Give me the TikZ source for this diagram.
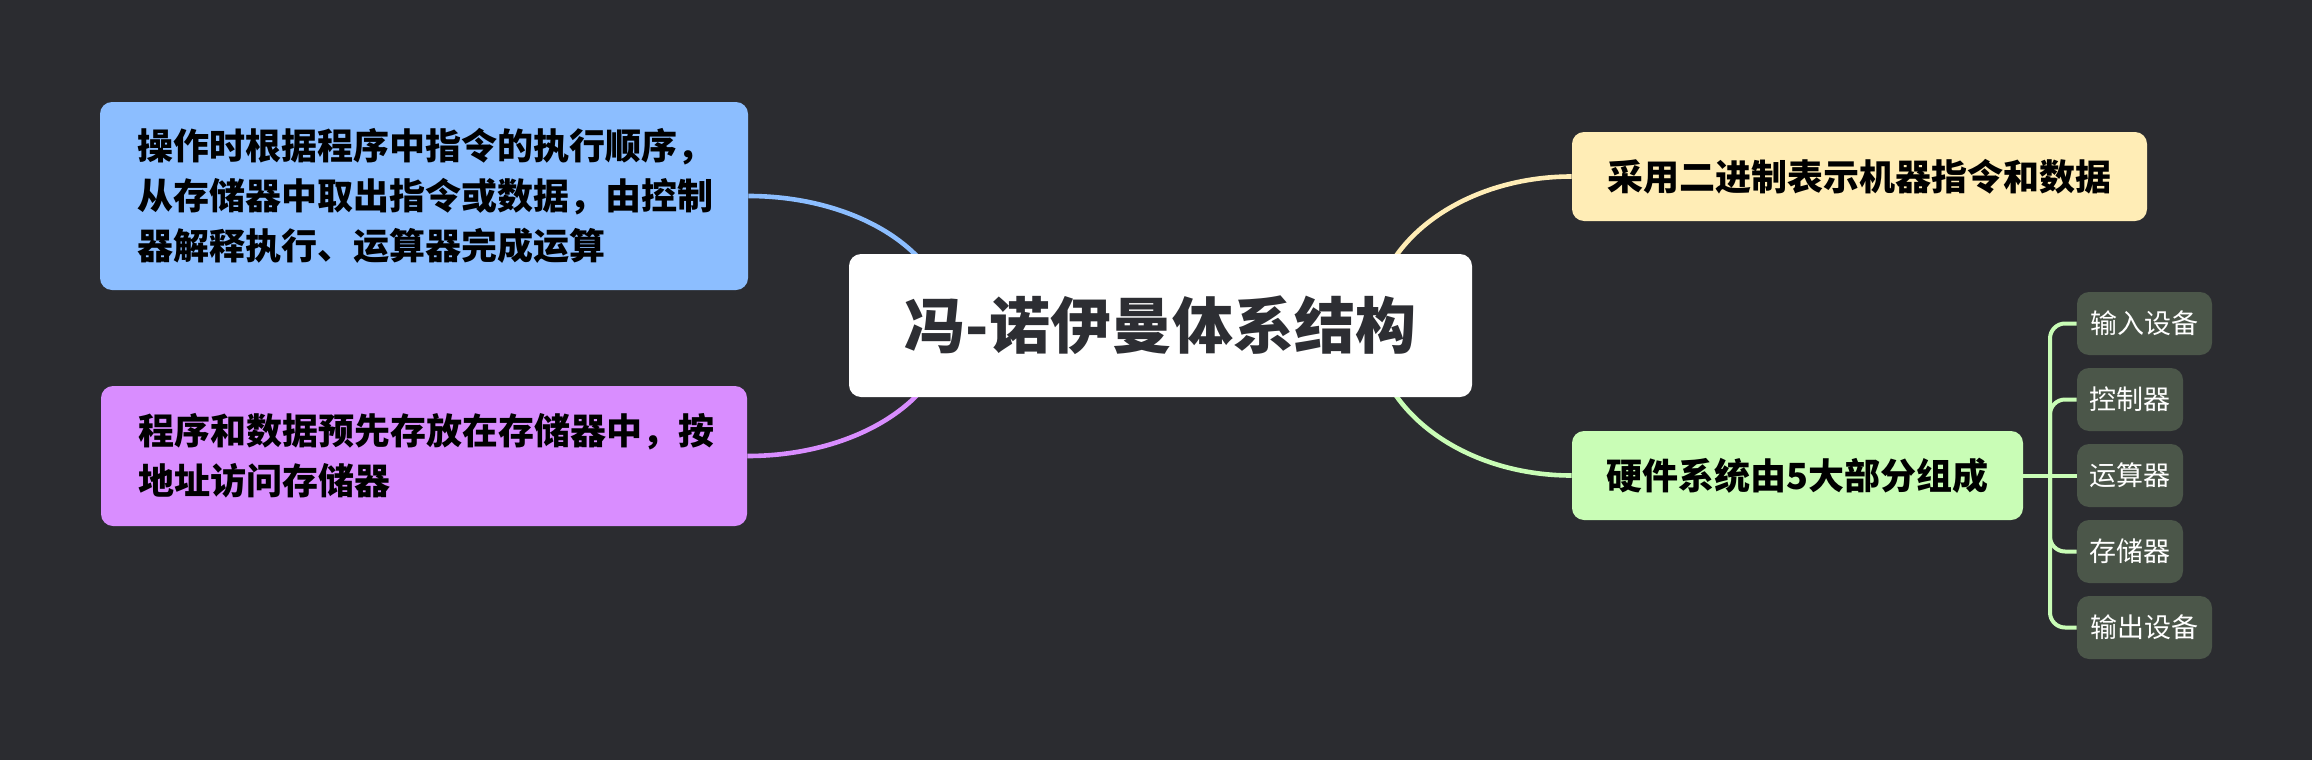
\documentclass[tikz,border=0pt]{standalone}
\usepackage{fontspec}
\setmainfont{Noto Sans CJK SC}
\usetikzlibrary{calc,backgrounds}
\definecolor{bgc}{HTML}{2B2C30}
\definecolor{cblue}{HTML}{8CBEFF}
\definecolor{cpurple}{HTML}{D98DFF}
\definecolor{cyellow}{HTML}{FFEDB6}
\definecolor{cgreen}{HTML}{C9FDB6}
\definecolor{csub}{HTML}{4B5649}
\definecolor{croottext}{HTML}{2D2E33}
\tikzset{
  box/.style={rounded corners=6pt, inner sep=0pt, align=center, text=black, font=\bfseries\fontsize{18pt}{25pt}\selectfont},
  rootbox/.style={fill=white, rounded corners=6pt, inner sep=0pt, minimum width=311.5pt, minimum height=71.5pt, text=croottext, font=\bfseries\fontsize{30.5pt}{34pt}\selectfont},
  subbox/.style={fill=csub, rounded corners=6pt, inner sep=0pt, minimum height=31.5pt, text=white, font=\fontsize{13.5pt}{16pt}\selectfont},
  conn/.style={line width=2.3pt},
  subconn/.style={line width=2pt, cgreen, rounded corners=7.5pt}
}
\begin{document}
\begin{tikzpicture}[x=0.5pt,y=-0.5pt]
\useasboundingbox (0,0) rectangle (2312,760);
\node[rootbox] (root) at (1160.5,325.5) {冯-诺伊曼体系结构};
\node[box, fill=cblue, minimum width=324pt, minimum height=94pt, text width=287pt, align=left, inner xsep=18.5pt] (blue) at (424,196) {操作时根据程序中指令的执行顺序，\\从存储器中取出指令或数据，由控制\\器解释执行、运算器完成运算};
\node[box, fill=cpurple, minimum width=323pt, minimum height=70pt, text width=286pt, align=left, inner xsep=18.5pt] (purple) at (424,456) {程序和数据预先存放在存储器中，按\\地址访问存储器};
\node[box, fill=cyellow, minimum width=287.5pt, minimum height=44.5pt] (yel) at (1859.5,176.5) {采用二进制表示机器指令和数据};
\node[box, fill=cgreen, minimum width=225.5pt, minimum height=44.5pt] (grn) at (1797.5,475.5) {硬件系统由5大部分组成};
\node[subbox, minimum width=67.5pt] (s1) at (2144.5,323.5) {输入设备};
\node[subbox, minimum width=53pt] (s2) at (2130,399.5) {控制器};
\node[subbox, minimum width=53pt] (s3) at (2130,475.5) {运算器};
\node[subbox, minimum width=53pt] (s4) at (2130,551.5) {存储器};
\node[subbox, minimum width=67.5pt] (s5) at (2144.5,627.5) {输出设备};
\coordinate (R) at (1373,325.5);
\coordinate (L) at (948,325.5);
\coordinate (J) at (2050,475.5);
\coordinate (cy) at (R|-yel.west);
\coordinate (cg) at (R|-grn.west);
\coordinate (cb) at (L|-blue.east);
\coordinate (cp) at (L|-purple.east);
\begin{scope}[on background layer]
\fill[bgc] (0,0) rectangle (2312,760);
\draw[conn, cyellow] (R) .. controls ($(R)!0.552!(cy)$) and ($(yel.west)!0.552!(cy)$) .. (yel.west);
\draw[conn, cgreen] (R) .. controls ($(R)!0.552!(cg)$) and ($(grn.west)!0.552!(cg)$) .. (grn.west);
\draw[conn, cblue] (L) .. controls ($(L)!0.552!(cb)$) and ($(blue.east)!0.552!(cb)$) .. (blue.east);
\draw[conn, cpurple] (L) .. controls ($(L)!0.552!(cp)$) and ($(purple.east)!0.552!(cp)$) .. (purple.east);
\draw[subconn] (grn.east) -- (s3.west);
\draw[subconn] (J) |- (s1.west);
\draw[subconn] (J) |- (s2.west);
\draw[subconn] (J) |- (s4.west);
\draw[subconn] (J) |- (s5.west);
\end{scope}
\end{tikzpicture}
\end{document}
